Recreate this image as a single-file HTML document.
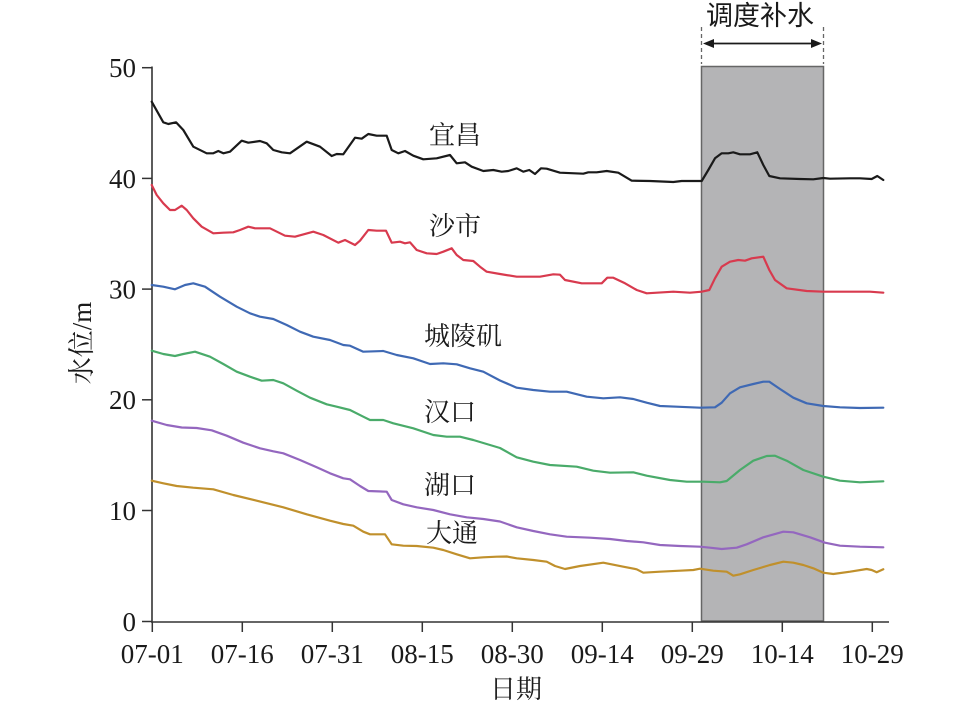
<!DOCTYPE html>
<html>
<head>
<meta charset="utf-8">
<style>
html,body{margin:0;padding:0;background:#fff;}
svg{display:block;}
text{font-family:"Liberation Serif","Noto Serif CJK SC",serif;fill:#1a1a1a;}
.cjk{font-family:"Liberation Serif","Noto Serif CJK SC",serif;}
.cjks{font-family:"Liberation Sans","Noto Sans CJK SC",sans-serif;}
</style>
</head>
<body>
<svg width="957" height="704" viewBox="0 0 957 704" xmlns="http://www.w3.org/2000/svg">
  <!-- gray box -->
  <rect x="701.5" y="66.5" width="122" height="554.5" fill="#b4b4b6" stroke="#666" stroke-width="1.5"/>
  <!-- dashed markers -->
  <line x1="701.5" y1="27" x2="701.5" y2="64" stroke="#666" stroke-width="1.3" stroke-dasharray="4,3"/>
  <line x1="823.5" y1="27" x2="823.5" y2="64" stroke="#666" stroke-width="1.3" stroke-dasharray="4,3"/>
  <line x1="710" y1="43.5" x2="815" y2="43.5" stroke="#1a1a1a" stroke-width="1.8"/>
  <polygon points="703,43.5 714,39 714,48" fill="#1a1a1a"/>
  <polygon points="822,43.5 811,39 811,48" fill="#1a1a1a"/>
  <text class="cjks" x="760" y="25" font-size="27" text-anchor="middle">调度补水</text>

  <!-- axes -->
  <line x1="152" y1="66.5" x2="152" y2="622.5" stroke="#333" stroke-width="1.6"/>
  <line x1="151" y1="622" x2="889" y2="622" stroke="#333" stroke-width="1.6"/>
  <g stroke="#333" stroke-width="1.5">
    <line x1="142" y1="67.7" x2="152" y2="67.7"/>
    <line x1="142" y1="178.4" x2="152" y2="178.4"/>
    <line x1="142" y1="289.1" x2="152" y2="289.1"/>
    <line x1="142" y1="399.8" x2="152" y2="399.8"/>
    <line x1="142" y1="510.5" x2="152" y2="510.5"/>
    <line x1="142" y1="621.5" x2="152" y2="621.5"/>
    <line x1="152.3" y1="622" x2="152.3" y2="632"/>
    <line x1="242.3" y1="622" x2="242.3" y2="632"/>
    <line x1="332.3" y1="622" x2="332.3" y2="632"/>
    <line x1="422.3" y1="622" x2="422.3" y2="632"/>
    <line x1="512.3" y1="622" x2="512.3" y2="632"/>
    <line x1="602.3" y1="622" x2="602.3" y2="632"/>
    <line x1="692.3" y1="622" x2="692.3" y2="632"/>
    <line x1="782.3" y1="622" x2="782.3" y2="632"/>
    <line x1="872.3" y1="622" x2="872.3" y2="632"/>
  </g>
  <g font-size="27" text-anchor="end">
    <text x="136" y="77">50</text>
    <text x="136" y="188">40</text>
    <text x="136" y="298.5">30</text>
    <text x="136" y="409">20</text>
    <text x="136" y="520">10</text>
    <text x="136" y="631">0</text>
  </g>
  <g font-size="27" text-anchor="middle">
    <text x="152.3" y="663">07-01</text>
    <text x="242.3" y="663">07-16</text>
    <text x="332.3" y="663">07-31</text>
    <text x="422.3" y="663">08-15</text>
    <text x="512.3" y="663">08-30</text>
    <text x="602.3" y="663">09-14</text>
    <text x="692.3" y="663">09-29</text>
    <text x="782.3" y="663">10-14</text>
    <text x="872.3" y="663">10-29</text>
  </g>
  <text class="cjk" x="516" y="698" font-size="26" text-anchor="middle">日期</text>
  <text x="0" y="0" font-size="27" text-anchor="middle" transform="translate(91,343) rotate(-90)"><tspan class="cjk">水位</tspan>/m</text>

  <!-- series -->
  <g fill="none" stroke-width="2.2" stroke-linejoin="round" stroke-linecap="round">
    <polyline stroke="#1a1a1a" points="151.7,101.7 163.3,122.3 168.3,124 176,122.3 183.3,130 193.3,146.7 206.7,153.3 213.3,153.3 218.3,151 223.3,153.3 230,151.7 241.7,140.7 248.3,142.7 260,141 266.7,143.3 273.3,150 281.7,152.3 290,153.3 306.7,141.7 320,146.7 331.7,156 336.7,154 343.3,154.3 355,137.7 361.7,138.7 368.3,134 376.7,135.7 386.7,135.7 391.7,150 398.3,153.3 405,151 413.3,155.7 423.3,159.3 436.7,158.3 450,155 456.7,163.3 465,162.3 471.7,166.7 483.3,171 493.3,170 501.7,171.7 508.3,171 516.7,168.3 523.3,171.7 529.3,170 535,174 541,168.3 546.7,168.7 560,172.7 583.3,173.7 588.3,172.3 596.7,172.3 606.7,171 618.3,172.7 631.7,180.7 650,181 673.3,182 681.7,181 701.7,181 708.3,170 715,158.3 721.7,153.3 728.3,153.3 733.3,152.3 740,154.3 750,154.3 757.3,152.3 763.3,165 769.3,176 780,178.3 800,179 813.3,179.3 823.3,178 830,178.7 850,178.3 860,178.3 871.7,179 877.3,176 883.3,180"/>
    <polyline stroke="#d83a4e" points="151.7,185 156.7,195 163.3,203.3 170,210 175,210 181.7,205.7 186.7,210 193.3,218.3 201.7,226.7 213.3,233.3 223.3,232.7 233.3,232.3 240,230 248.3,226.7 255,228.3 270,228.3 285,235.7 295,236.7 313.3,231.7 323.3,235 338.3,242.7 345,240 355,245 360,240.7 368.3,230 376.7,230.7 386,230.7 391.7,242.7 400,241.7 405,243.3 410,242.3 416.7,250 426.7,253.3 436.7,254 443.3,251.7 451.7,248.3 456.7,255 463.3,260 473.3,261 480,266.7 486.7,271.7 500,274 516.7,276.7 540,276.7 553.3,274.3 560,274.7 565,280 581.7,283.3 601.7,283.3 607.3,277.7 613.3,277.7 625,283.3 636.7,290 646.7,293.3 673.3,291.7 690,292.7 701.7,291.7 709.3,290 715,278.3 721.7,266.7 730,261.7 738.3,260 745,260.7 751.7,258.3 763.3,256.7 769.3,270 775,280 786.7,288.3 806.7,291 823.3,291.7 850,291.7 870,291.7 883.3,292.7"/>
    <polyline stroke="#3f69b4" points="151.7,285 163.3,286.7 175,289.3 185,285 193.3,283.3 205,286.7 220,296.7 236.7,306.7 250,313.3 260,316.7 273.3,319 286.7,325 300,331.7 313.3,336.7 330,340 343.3,345 350,345.7 363.3,351.7 383.3,351 396.7,355 413.3,358.3 430,364 443.3,363.3 456.7,364.3 470,368.3 483.3,371.7 500,380.5 516.7,387.7 533.3,390 550,391.7 566.7,391.7 586.7,396.7 603.3,398.3 620,397.3 633.3,399 646.7,402.7 660,406 676.7,406.7 700,407.7 715,407.3 721.7,402.7 730,393.3 740,387.3 753.3,384 763.3,381.7 769.3,381.7 780,389 793.3,397.7 806.7,403.3 823.3,406 840,407.3 860,408 883.3,407.7"/>
    <polyline stroke="#4aab6a" points="151.7,350.7 163.3,354 175,356 183.3,354 195,351.7 210,356.7 223.3,364 236.7,371.7 250,376.7 261.7,380.7 273.3,380 283.3,383.3 296.7,390.7 310,397.7 326.7,404.3 336.7,406.7 350,410 363.3,416.7 370,420 383.3,420 393.3,423.3 413.3,428.3 433.3,435 446.7,436.7 460,436.7 473.3,440 490,445 500,448 516.7,457.3 533.3,461.7 550,465 576.7,466.7 593.3,470.7 610,472.7 633.3,472.3 646.7,475.7 670,480 686.7,481.7 703.3,481.7 720,482.3 726.7,481 740,470 753.3,460.7 766.7,456 775,455.7 786.7,460.7 803.3,470 823.3,476.7 840,480.7 860,482.3 883.3,481.3"/>
    <polyline stroke="#9467bf" points="151.7,420.7 166.7,425 181.7,427.5 196.7,428 211.7,430.3 226.7,435.7 243.3,442.7 260,448.3 273.3,451.3 283.3,453.3 300,460 316.7,467.3 330,473.3 343.3,478.3 350,479.3 360,486 368.3,491 386.7,491.7 391.7,500 403.3,504.3 416.7,507.3 433.3,510 450,514.3 466.7,517.3 483.3,519 500,521.5 516.7,527.3 533.3,531 550,534.3 566.7,536.7 590,537.7 610,539 626.7,541 643.3,542.3 660,545 680,546 700,546.7 710,547.7 721.7,549 736.7,547.7 746.7,544.3 763.3,537.3 783.3,531.7 793.3,532.3 810,537.3 825,542.7 840,545.7 860,546.7 883.3,547.3"/>
    <polyline stroke="#c0902c" points="151.7,480.7 163.3,483.3 176.7,486 193.3,487.7 213.3,489.3 233.3,495 256.7,500.7 283.3,507.3 306.7,514.3 330,520.7 343.3,524 353.3,525.7 363.3,531.7 370,534.3 385,534.3 391.7,544.3 403.3,545.7 416.7,546 433.3,547.7 443.3,550 456.7,554.3 470,558.3 483.3,557.3 496.7,556.7 506.7,556.5 516.7,558.3 533.3,560 546.7,561.7 555,566 565,569 580,566 603.3,562.7 623.3,566.7 636.7,569.3 643.3,572.7 660,571.7 680,570.7 693.3,570 700,568.7 713.3,570.7 726.7,571.7 733.3,575.7 740,574.3 753.3,570 770,565 783.3,561.7 793.3,562.7 803.3,565 813.3,568.3 823.3,572.7 833.3,574 850,571.7 866.7,569 871.7,570 876.7,572.3 883.3,569.3"/>
  </g>

  <!-- series labels -->
  <g font-size="26" text-anchor="middle">
    <text class="cjk" x="455" y="144">宜昌</text>
    <text class="cjk" x="455" y="235">沙市</text>
    <text class="cjk" x="463" y="345">城陵矶</text>
    <text class="cjk" x="450" y="421">汉口</text>
    <text class="cjk" x="450" y="494">湖口</text>
    <text class="cjk" x="452" y="542">大通</text>
  </g>
</svg>
</body>
</html>
